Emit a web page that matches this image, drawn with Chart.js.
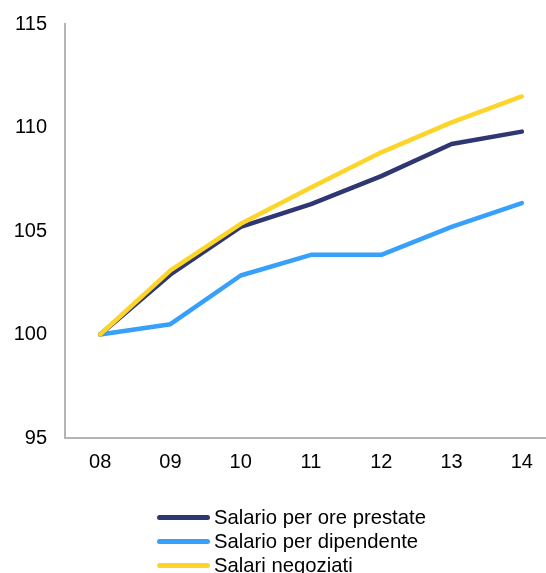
<!DOCTYPE html>
<html>
<head>
<meta charset="utf-8">
<script src="https://cdn.jsdelivr.net/npm/chart.js@4"></script>
<style>
  html, body { margin: 0; padding: 0; background: #fff; overflow: hidden; }
  #wrap { position: relative; width: 546px; height: 573px; overflow: hidden; }
  #c { position: absolute; left: 0; top: 0; }
  #legend { position: absolute; left: 157px; top: 505px; font-family: "Liberation Sans", Arial, sans-serif; font-size: 20.3px; color: #000; }
  .row { height: 24px; line-height: 24px; display: flex; align-items: center; white-space: nowrap; }
  .sw { display: inline-block; width: 53px; height: 5px; border-radius: 3px; margin-right: 4px; }
</style>
</head>
<body>
<div id="wrap">
  <canvas id="c" width="557" height="573"></canvas>
  <div id="legend"></div>
</div>
<script>
const categories = ['08', '09', '10', '11', '12', '13', '14'];
const seriesNames = ['Salario per ore prestate', 'Salario per dipendente', 'Salari negoziati'];
const salarioOre = [100, 102.9, 105.2, 106.3, 107.65, 109.2, 109.8];
const salarioDipendente = [100, 100.5, 102.85, 103.85, 103.85, 105.2, 106.35];
const salariNegoziati = [100, 103.1, 105.35, 107.1, 108.8, 110.25, 111.5];
const yTicks = [95, 100, 105, 110, 115];

const colors = ['#2E3772', '#36A0FA', '#FDD52A'];
const seriesValues = [salarioOre, salarioDipendente, salariNegoziati];
const drawOrder = [1, 2, 0];

const font = { family: '"Liberation Sans", Arial, sans-serif', size: 20 };

new Chart(document.getElementById('c'), {
  type: 'line',
  data: {
    labels: categories,
    datasets: seriesNames.map((name, i) => ({
      label: name,
      data: seriesValues[i],
      borderColor: colors[i],
      backgroundColor: colors[i],
      borderWidth: 4.5,
      borderCapStyle: 'round',
      borderJoinStyle: 'round',
      pointRadius: 0,
      tension: 0,
      fill: false,
      order: drawOrder[i]
    }))
  },
  options: {
    responsive: false,
    animation: false,
    layout: { padding: { top: 24, right: 0, bottom: 95, left: 0 } },
    plugins: { legend: { display: false }, tooltip: { enabled: false } },
    scales: {
      x: {
        type: 'category',
        offset: true,
        grid: { display: false, drawTicks: false },
        border: { display: true, color: '#B4B4B4', width: 2 },
        ticks: { color: '#000', font: font, padding: 12, maxRotation: 0 },
        afterFit: (s) => { s.height = 40; s.paddingLeft = 0; s.paddingRight = 0; }
      },
      y: {
        min: yTicks[0],
        max: yTicks[yTicks.length - 1],
        grid: { display: false, drawTicks: false },
        border: { display: true, color: '#B4B4B4', width: 2 },
        afterBuildTicks: (s) => { s.ticks = yTicks.map(v => ({ value: v })); },
        ticks: { color: '#000', font: font, padding: 18 },
        afterFit: (s) => { s.width = 65; s.paddingTop = 0; s.paddingBottom = 0; }
      }
    }
  }
});

const legend = document.getElementById('legend');
seriesNames.forEach((name, i) => {
  const row = document.createElement('div');
  row.className = 'row';
  const sw = document.createElement('span');
  sw.className = 'sw';
  sw.style.background = colors[i];
  const tx = document.createElement('span');
  tx.textContent = name;
  row.appendChild(sw);
  row.appendChild(tx);
  legend.appendChild(row);
});
</script>
</body>
</html>
